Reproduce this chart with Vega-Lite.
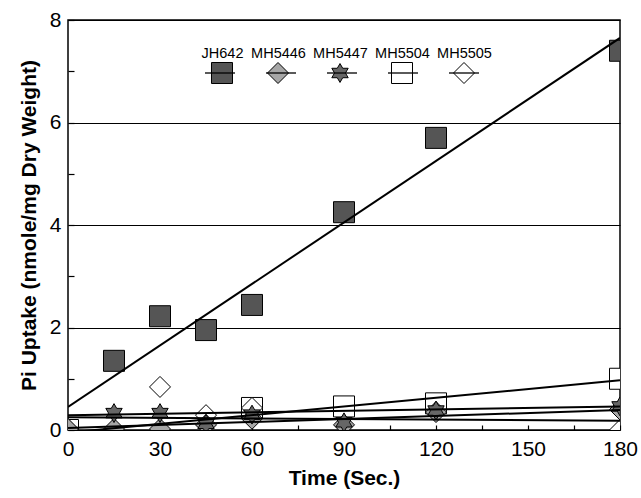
{
  "$schema": "https://vega.github.io/schema/vega-lite/v6.json",
  "width": 552,
  "height": 410,
  "autosize": {"type": "none"},
  "padding": {"left": 68, "top": 20, "right": 21, "bottom": 68},
  "background": "white",
  "config": {
    "view": {"stroke": "black", "strokeWidth": 1.5},
    "font": "Liberation Sans",
    "axis": {
      "domain": false,
      "labelFont": "Liberation Sans",
      "labelFontSize": 21,
      "labelColor": "black",
      "titleFont": "Liberation Sans",
      "titleFontSize": 21,
      "titleFontWeight": "bold",
      "titleColor": "black",
      "labelFlush": false,
      "labelOverlap": false
    }
  },
  "datasets": {
    "points": [
      {"strain": "JH642", "time": 15, "uptake": 1.35},
      {"strain": "JH642", "time": 30, "uptake": 2.22},
      {"strain": "JH642", "time": 45, "uptake": 1.95},
      {"strain": "JH642", "time": 60, "uptake": 2.44},
      {"strain": "JH642", "time": 90, "uptake": 4.25},
      {"strain": "JH642", "time": 120, "uptake": 5.7},
      {"strain": "JH642", "time": 180, "uptake": 7.4},
      {"strain": "MH5504", "time": 0, "uptake": 0.0},
      {"strain": "MH5504", "time": 60, "uptake": 0.43},
      {"strain": "MH5504", "time": 90, "uptake": 0.46},
      {"strain": "MH5504", "time": 120, "uptake": 0.52},
      {"strain": "MH5504", "time": 180, "uptake": 1.0},
      {"strain": "MH5505", "time": 0, "uptake": 0.0},
      {"strain": "MH5505", "time": 30, "uptake": 0.84},
      {"strain": "MH5505", "time": 45, "uptake": 0.29},
      {"strain": "MH5505", "time": 60, "uptake": 0.43},
      {"strain": "MH5505", "time": 180, "uptake": 0.0},
      {"strain": "MH5446", "time": 0, "uptake": 0.02},
      {"strain": "MH5446", "time": 15, "uptake": 0.02},
      {"strain": "MH5446", "time": 30, "uptake": 0.02},
      {"strain": "MH5446", "time": 45, "uptake": 0.1},
      {"strain": "MH5446", "time": 60, "uptake": 0.22},
      {"strain": "MH5446", "time": 90, "uptake": 0.1},
      {"strain": "MH5446", "time": 120, "uptake": 0.35},
      {"strain": "MH5446", "time": 180, "uptake": 0.4},
      {"strain": "MH5447", "time": 15, "uptake": 0.33},
      {"strain": "MH5447", "time": 30, "uptake": 0.33},
      {"strain": "MH5447", "time": 45, "uptake": 0.12},
      {"strain": "MH5447", "time": 60, "uptake": 0.3},
      {"strain": "MH5447", "time": 90, "uptake": 0.15},
      {"strain": "MH5447", "time": 120, "uptake": 0.38},
      {"strain": "MH5447", "time": 180, "uptake": 0.46}
    ],
    "fits": [
      {"strain": "JH642", "time": 0, "uptake": 0.45},
      {"strain": "JH642", "time": 180, "uptake": 7.65},
      {"strain": "MH5446", "time": 0, "uptake": 0.04},
      {"strain": "MH5446", "time": 180, "uptake": 0.39},
      {"strain": "MH5447", "time": 0, "uptake": 0.29},
      {"strain": "MH5447", "time": 180, "uptake": 0.46},
      {"strain": "MH5504", "time": 0, "uptake": -0.05},
      {"strain": "MH5504", "time": 180, "uptake": 0.97},
      {"strain": "MH5505", "time": 0, "uptake": 0.25},
      {"strain": "MH5505", "time": 180, "uptake": 0.18}
    ]
  },
  "layer": [
    {
      "data": {"name": "points"},
      "mark": {"type": "point", "filled": false, "stroke": "black", "strokeWidth": 1, "opacity": 1, "fillOpacity": 1, "size": 441, "clip": true},
      "encoding": {
        "x": {
          "field": "time", "type": "quantitative",
          "scale": {"domain": [0, 180], "nice": false},
          "axis": {
            "title": "Time (Sec.)",
            "values": [0, 15, 30, 45, 60, 75, 90, 105, 120, 135, 150, 165, 180],
            "labelExpr": "datum.value % 30 == 0 ? datum.label : ''",
            "ticks": true,
            "tickSize": -5,
            "tickColor": "black",
            "tickWidth": 1.2,
            "labelPadding": 13,
            "titlePadding": 8,
            "grid": false
          }
        },
        "y": {
          "field": "uptake", "type": "quantitative",
          "scale": {"domain": [0, 8], "nice": false},
          "axis": {
            "title": "Pi Uptake (nmole/mg Dry Weight)",
            "values": [0, 1, 2, 3, 4, 5, 6, 7, 8],
            "labelExpr": "datum.value % 2 == 0 ? datum.label : ''",
            "ticks": true,
            "tickSize": -6,
            "tickColor": "black",
            "tickWidth": 1.2,
            "labelPadding": 13,
            "titlePadding": 10,
            "grid": true,
            "gridColor": "black",
            "gridWidth": 1,
            "gridOpacity": {"condition": {"test": "datum.value % 2 == 1", "value": 0}, "value": 1}
          }
        },
        "shape": {
          "field": "strain", "type": "nominal",
          "scale": {
            "domain": ["JH642", "MH5446", "MH5447", "MH5504", "MH5505"],
            "range": ["square", "diamond", "M0,-0.9L0.26,-0.45L0.78,-0.45L0.52,0L0.78,0.45L0.26,0.45L0,0.9L-0.26,0.45L-0.78,0.45L-0.52,0L-0.78,-0.45L-0.26,-0.45Z", "square", "diamond"]
          },
          "legend": {
            "orient": "none", "legendX": 143, "legendY": 42, "direction": "horizontal",
            "title": null, "symbolSize": 441, "symbolStrokeColor": "black", "symbolStrokeWidth": 1,
            "labelFontSize": 14.5, "labelFont": "Liberation Sans", "labelColor": "black",
            "labelAlign": "center", "labelOffset": 0, "columnPadding": 7, "gridAlign": "none", "zindex": 0,
            "encoding": {
              "labels": {"dx": {"value": -10.5}, "dy": {"value": -19}},
              "symbols": {"stroke": {"value": "black"}, "strokeWidth": {"value": 1}}
            }
          }
        },
        "fill": {
          "field": "strain", "type": "nominal",
          "scale": {
            "domain": ["JH642", "MH5446", "MH5447", "MH5504", "MH5505"],
            "range": ["#555555", "#a6a6a6", "#666666", "white", "white"]
          },
          "legend": {
            "orient": "none", "legendX": 143, "legendY": 42, "direction": "horizontal",
            "title": null, "symbolSize": 441, "symbolStrokeColor": "black", "symbolStrokeWidth": 1,
            "labelFontSize": 14.5, "labelFont": "Liberation Sans", "labelColor": "black",
            "labelAlign": "center", "labelOffset": 0, "columnPadding": 7, "gridAlign": "none", "zindex": 0,
            "encoding": {
              "labels": {"dx": {"value": -10.5}, "dy": {"value": -19}},
              "symbols": {"stroke": {"value": "black"}, "strokeWidth": {"value": 1}}
            }
          }
        }
      }
    },
    {
      "data": {"name": "fits"},
      "mark": {"type": "line", "strokeWidth": 2, "clip": true},
      "encoding": {
        "x": {"field": "time", "type": "quantitative"},
        "y": {"field": "uptake", "type": "quantitative"},
        "stroke": {
          "field": "strain", "type": "nominal",
          "scale": {"range": ["black", "black", "black", "black", "black"]},
          "legend": {
            "orient": "none", "legendX": 136, "legendY": 37, "direction": "horizontal",
            "title": null, "symbolType": "stroke", "symbolSize": 900, "symbolStrokeWidth": 1.3,
            "labelExpr": "''", "labelFontSize": 14.5, "labelOffset": 0,
            "columnPadding": 25, "gridAlign": "none", "zindex": 1
          }
        }
      }
    }
  ]
}
